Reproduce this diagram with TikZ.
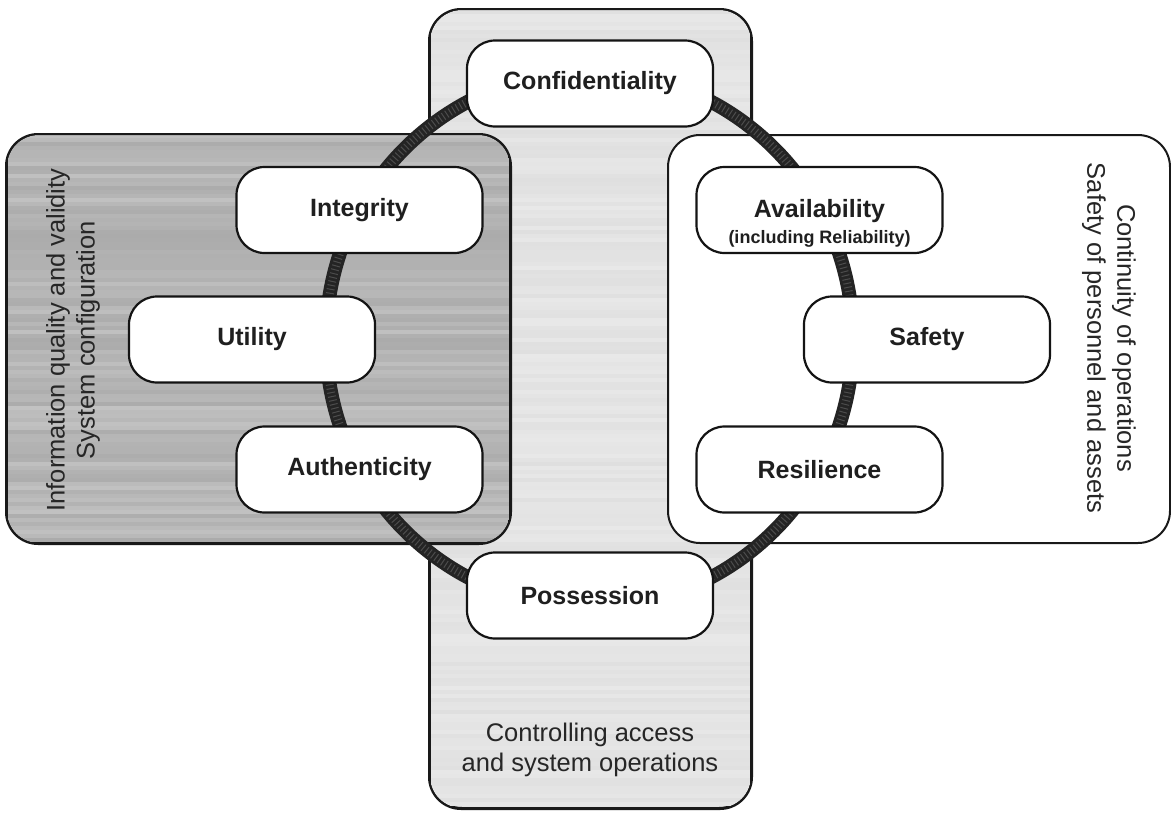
\documentclass[tikz,border=0pt]{standalone}
\usepackage{fontspec}
\setmainfont{Liberation Sans}
\begin{document}
\begin{tikzpicture}[x=1pt,y=-1pt,
  region/.style={draw=black!90, line width=2pt, rounded corners=32pt, inner sep=0pt},
  item/.style={draw=black!92, line width=2.2pt, fill=white, rounded corners=28pt, minimum width=246pt, minimum height=86pt, inner sep=0pt, font=\fontsize{25}{30}\selectfont\bfseries, text=black!88, align=center},
  side/.style={font=\fontsize{25.5}{30}\selectfont, align=center, inner sep=0pt, text=black!85}]
\useasboundingbox (0,0) rectangle (1171,812);
% regions
\node[region, fill=black!11, minimum width=321pt, minimum height=798pt] (access) at (590.5,409) {};
\begin{scope}
  \clip[rounded corners=32pt] (430,10) rectangle (751,808);
  \pgfmathsetseed{7}
  \foreach \i in {12,16,...,806} {
    \pgfmathsetmacro\g{9+3.5*rnd}
    \draw[black!\g, line width=4pt] (431,\i) -- (750,\i);
  }
\end{scope}
\draw[black!90, line width=2pt, rounded corners=32pt] (access.north west) rectangle (access.south east);
\node[region, fill=black!30, minimum width=503pt, minimum height=408pt] (quality) at (258.5,339) {};
\begin{scope}
  \clip[rounded corners=32pt] (7,135) rectangle (510,543);
  \pgfmathsetseed{3}
  \foreach \i in {136,140,...,542} {
    \pgfmathsetmacro\g{24+9*rnd}
    \draw[black!\g, line width=4pt] (8,\i) -- (509,\i);
  }
\end{scope}
\draw[black!90, line width=2pt, rounded corners=32pt] (quality.north west) rectangle (quality.south east);
\node[region, fill=white, minimum width=502pt, minimum height=408pt] (continuity) at (919,339) {};
% ring
\coordinate (ringc) at (589.5,339.5);
\draw[line width=14pt, black!86] (ringc) ellipse [x radius=263.5pt, y radius=268pt];
\draw[line width=8pt, black!70, dash pattern=on 1pt off 3pt] (ringc) ellipse [x radius=263.5pt, y radius=268pt];
% items
\node[item] (conf) at (590,83.5) {Confidentiality};
\node[item] (integ) at (359.5,210) {Integrity};
\node[item] (util) at (252,339.5) {Utility};
\node[item] (auth) at (359.5,469.5) {Authenticity};
\node[item] (avail) at (819.5,210) {};
\node[align=center, inner sep=0pt, font=\fontsize{25}{30}\selectfont\bfseries, text=black!88] (availtext) at (819.5,223) {Availability\\[-4pt]{\fontsize{18}{20}\selectfont (including Reliability)}};
\node[item] (safety) at (927,339.5) {Safety};
\node[item] (resil) at (819.5,469.5) {Resilience};
\node[item] (poss) at (590,595.5) {Possession};
% side texts
\node[side, rotate=90] (qualitytext) at (73,340) {Information quality and validity\\System configuration};
\node[side, rotate=-90] (conttext) at (1109,338) {Continuity of operations\\Safety of personnel and assets};
\node[side] (accesstext) at (590,750) {Controlling access\\and system operations};
\end{tikzpicture}
\end{document}
